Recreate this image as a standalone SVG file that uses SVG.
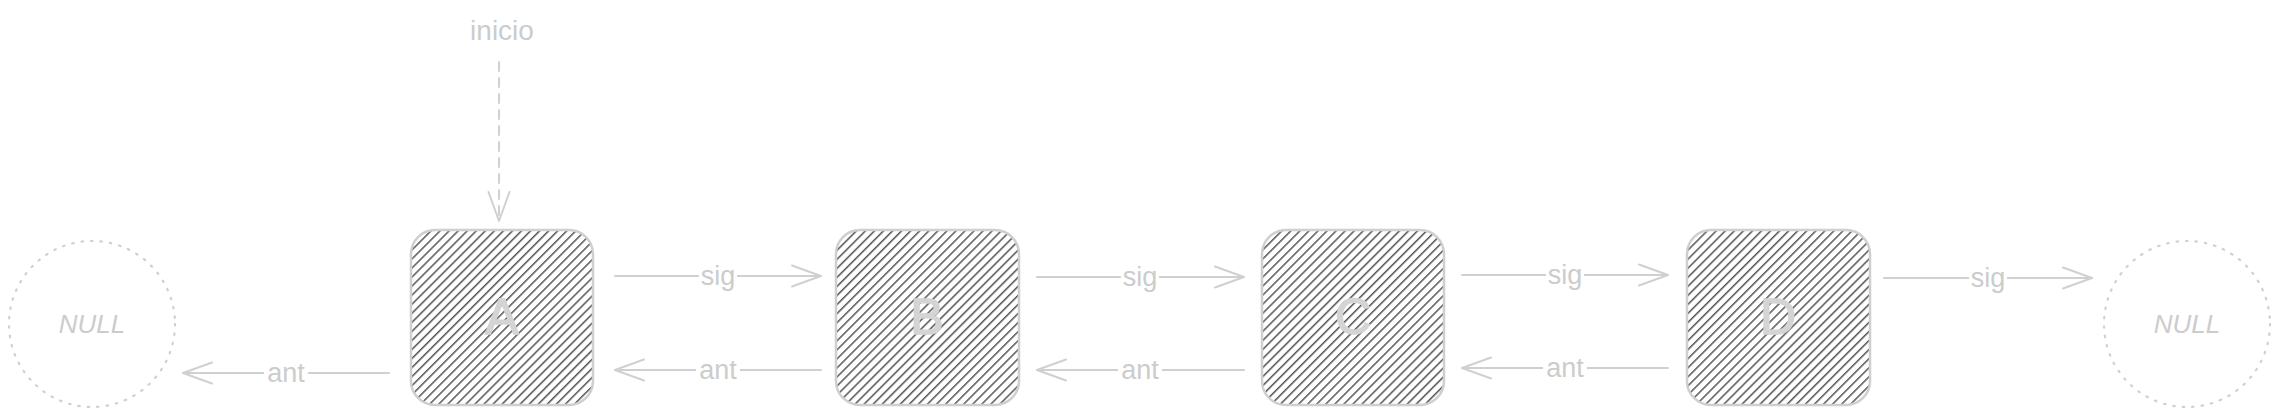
<svg xmlns="http://www.w3.org/2000/svg" width="2279" height="415" viewBox="0 0 2279 415">
  <style>
    .box { fill: url(#hatch); stroke: #cfcfcf; stroke-width: 2.5; }
    .null { fill: none; stroke: #d0d0d0; stroke-width: 2.2; stroke-dasharray: 1.5 8; stroke-linecap: round; }
    .node-label { font-family: "Liberation Sans", Arial, sans-serif; font-size: 50px; fill: #d4d4d4; stroke: #d4d4d4; stroke-width: 1.5; text-anchor: middle; }
    .null-label { font-family: "Liberation Sans", Arial, sans-serif; font-size: 26px; font-style: italic; fill: #cccccc; text-anchor: middle; }
    .edge { stroke: #d0d0d0; stroke-width: 2; fill: none; stroke-linecap: round; marker-end: url(#arrow); }
    .dashed { stroke-dasharray: 9 7; }
    .lbl-bg { fill: #ffffff; }
    .edge-label { font-family: "Liberation Sans", Arial, sans-serif; font-size: 27px; fill: #cccccc; text-anchor: middle; }
  </style>
  <defs>
    <pattern id="hatch" patternUnits="userSpaceOnUse" width="6.4" height="6.4" patternTransform="rotate(45)">
      <rect width="6.4" height="6.4" fill="#ffffff"/>
      <line x1="0.8" y1="0" x2="0.8" y2="6.4" stroke="#2a2a2a" stroke-width="1.2"/>
    </pattern>
    <marker id="arrow" markerUnits="userSpaceOnUse" markerWidth="36" markerHeight="28" refX="32" refY="14" orient="auto">
      <path d="M3,3.5 L32,14 L3,24.5" fill="none" stroke="#d0d0d0" stroke-width="2" stroke-linecap="round" stroke-linejoin="round"/>
    </marker>
  </defs>
  <rect width="2279" height="415" fill="#ffffff"/>

  <g id="null-left">
    <circle class="null" cx="92" cy="324" r="83"/>
    <text class="null-label" x="92" y="333">NULL</text>
  </g>
  <g id="node-a">
    <rect class="box" x="411" y="230" width="182" height="175" rx="24"/>
    <text class="node-label" x="502" y="334">A</text>
  </g>
  <g id="node-b">
    <rect class="box" x="836" y="230" width="183" height="175" rx="24"/>
    <text class="node-label" x="927" y="334">B</text>
  </g>
  <g id="node-c">
    <rect class="box" x="1262" y="230" width="182" height="175" rx="24"/>
    <text class="node-label" x="1353" y="334">C</text>
  </g>
  <g id="node-d">
    <rect class="box" x="1687" y="230" width="183" height="175" rx="24"/>
    <text class="node-label" x="1778" y="334">D</text>
  </g>
  <g id="null-right">
    <circle class="null" cx="2187" cy="324" r="83"/>
    <text class="null-label" x="2187" y="333">NULL</text>
  </g>
  <g id="inicio">
    <text class="edge-label" x="502" y="40" style="font-size:28px">inicio</text>
  </g>

  <g id="connectors">
    <line class="edge dashed" x1="499" y1="62" x2="499" y2="221"/>

    <line class="edge" x1="615" y1="276" x2="821" y2="276"/>
    <rect class="lbl-bg" x="699" y="262" width="38" height="30"/>
    <text class="edge-label" x="718" y="285">sig</text>

    <line class="edge" x1="821" y1="370" x2="615" y2="370"/>
    <rect class="lbl-bg" x="696" y="356" width="44" height="26"/>
    <text class="edge-label" x="718" y="379">ant</text>

    <line class="edge" x1="1037" y1="277" x2="1244" y2="277"/>
    <rect class="lbl-bg" x="1121" y="263" width="38" height="30"/>
    <text class="edge-label" x="1140" y="286">sig</text>

    <line class="edge" x1="1244" y1="370" x2="1037" y2="370"/>
    <rect class="lbl-bg" x="1118" y="356" width="44" height="26"/>
    <text class="edge-label" x="1140" y="379">ant</text>

    <line class="edge" x1="1462" y1="275" x2="1668" y2="275"/>
    <rect class="lbl-bg" x="1546" y="261" width="38" height="30"/>
    <text class="edge-label" x="1565" y="284">sig</text>

    <line class="edge" x1="1668" y1="368" x2="1462" y2="368"/>
    <rect class="lbl-bg" x="1543" y="354" width="44" height="26"/>
    <text class="edge-label" x="1565" y="377">ant</text>

    <line class="edge" x1="1884" y1="278" x2="2092" y2="278"/>
    <rect class="lbl-bg" x="1969" y="264" width="38" height="30"/>
    <text class="edge-label" x="1988" y="287">sig</text>

    <line class="edge" x1="389" y1="373" x2="183" y2="373"/>
    <rect class="lbl-bg" x="264" y="359" width="44" height="26"/>
    <text class="edge-label" x="286" y="382">ant</text>
  </g>
</svg>
